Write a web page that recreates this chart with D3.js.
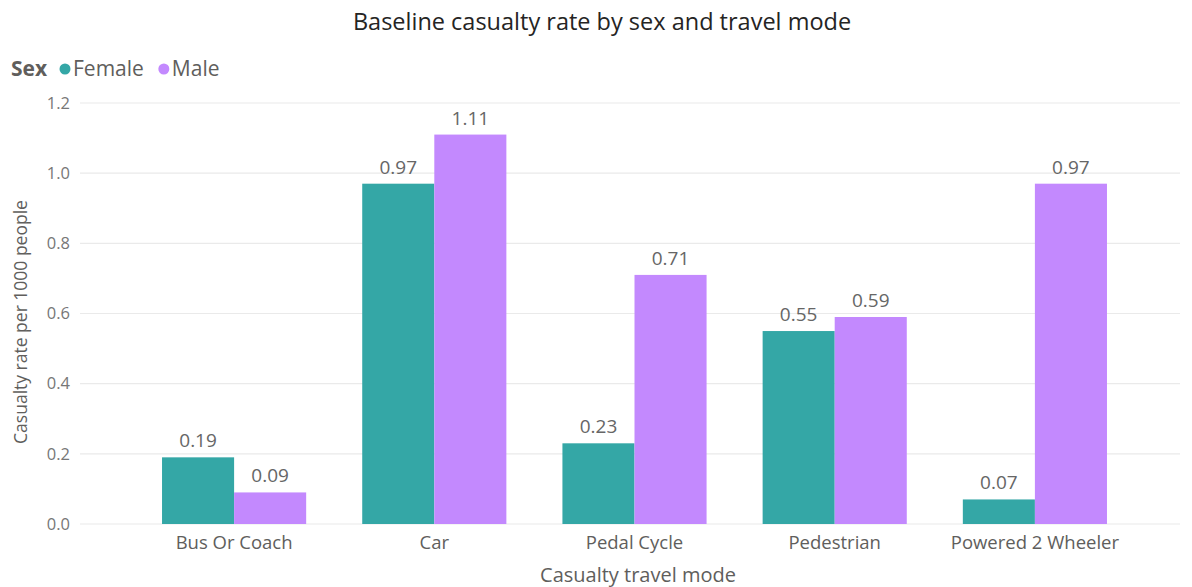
<!DOCTYPE html>
<html>
<head>
<meta charset="utf-8">
<script src="https://cdn.jsdelivr.net/npm/d3@7"></script>
<style>
  html, body { margin: 0; padding: 0; background: #ffffff; }
  svg { display: block; }
  text { font-family: "Open Sans", "Noto Sans", sans-serif; }
</style>
</head>
<body>
<svg id="chart" width="1192" height="587"></svg>
<script>
// Casualty rate per 1000 people, by travel mode and sex
const modes = ["Bus Or Coach", "Car", "Pedal Cycle", "Pedestrian", "Powered 2 Wheeler"];
const sexes = ["Female", "Male"];
const femaleRates = [0.19, 0.97, 0.23, 0.55, 0.07];
const maleRates = [0.09, 1.11, 0.71, 0.59, 0.97];
const yTicks = [0, 0.2, 0.4, 0.6, 0.8, 1.0, 1.2];

const colors = { Female: "#34A7A6", Male: "#C389FE" };

const rows = modes.map((m, i) => ({ mode: m, Female: femaleRates[i], Male: maleRates[i] }));

const svg = d3.select("#chart");

const x = d3.scaleBand().domain(modes).range([134, 1135]).paddingInner(0.28).paddingOuter(0.14);
const xs = d3.scaleBand().domain(sexes).range([0, x.bandwidth()]);
const y = d3.scaleLinear().domain([0, 1.2]).range([524, 103]);

// Title
svg.append("text")
  .attr("x", 602).attr("y", 30)
  .attr("text-anchor", "middle")
  .attr("font-size", 23.5)
  .attr("fill", "#252423")
  .text("Baseline casualty rate by sex and travel mode");

// Legend
const legend = svg.append("g").attr("transform", "translate(11,76)");
legend.append("text").attr("x", 0).attr("y", 0)
  .attr("font-size", 21).attr("font-weight", "bold").attr("fill", "#605E5C").text("Sex");
let lx = 48;
sexes.forEach(s => {
  legend.append("circle").attr("cx", lx + 6).attr("cy", -7).attr("r", 5.5).attr("fill", colors[s]);
  const t = legend.append("text").attr("x", lx + 14).attr("y", 0)
    .attr("font-size", 21).attr("fill", "#605E5C").text(s);
  lx += 14 + t.node().getComputedTextLength() + 14;
});

// Gridlines
svg.append("g")
  .selectAll("line").data(yTicks).join("line")
  .attr("x1", 80).attr("x2", 1180)
  .attr("y1", d => y(d)).attr("y2", d => y(d))
  .attr("stroke", "#EAEAEA").attr("stroke-width", 1.2);

// Y axis labels
const yAxis = d3.axisLeft(y).tickValues(yTicks).tickFormat(d3.format(".1f")).tickSize(0).tickPadding(0);
const yg = svg.append("g").attr("transform", "translate(70,0)").call(yAxis);
yg.select(".domain").remove();
yg.selectAll("text").attr("font-size", 16.5).attr("fill", "#777777")
  .attr("font-family", "'Open Sans', 'Noto Sans', sans-serif");

// X axis labels
const xAxis = d3.axisBottom(x).tickSize(0).tickPadding(0);
const xg = svg.append("g").attr("transform", "translate(0,536)").call(xAxis);
xg.select(".domain").remove();
xg.selectAll("text").attr("font-size", 18.5).attr("fill", "#605E5C")
  .attr("font-family", "'Open Sans', 'Noto Sans', sans-serif");

// Axis titles
svg.append("text")
  .attr("x", 638).attr("y", 582)
  .attr("text-anchor", "middle")
  .attr("font-size", 20).attr("fill", "#605E5C")
  .text("Casualty travel mode");
svg.append("text")
  .attr("transform", "translate(27,322) rotate(-90)")
  .attr("text-anchor", "middle")
  .attr("font-size", 17.5).attr("fill", "#605E5C")
  .text("Casualty rate per 1000 people");

// Bars and value labels
const groups = svg.append("g").selectAll("g").data(rows).join("g")
  .attr("transform", d => `translate(${x(d.mode)},0)`);

const cells = groups.selectAll("g").data(d => sexes.map(s => ({ sex: s, value: d[s] }))).join("g");

cells.append("rect")
  .attr("x", d => xs(d.sex))
  .attr("width", xs.bandwidth())
  .attr("y", d => y(d.value))
  .attr("height", d => y(0) - y(d.value))
  .attr("fill", d => colors[d.sex]);

cells.append("text")
  .attr("x", d => xs(d.sex) + xs.bandwidth() / 2)
  .attr("y", d => y(d.value) - 10)
  .attr("text-anchor", "middle")
  .attr("font-size", 19)
  .attr("fill", "#666666")
  .attr("font-family", "Roboto, 'Noto Sans', sans-serif")
  .text(d => d3.format(".2f")(d.value));
</script>
</body>
</html>
